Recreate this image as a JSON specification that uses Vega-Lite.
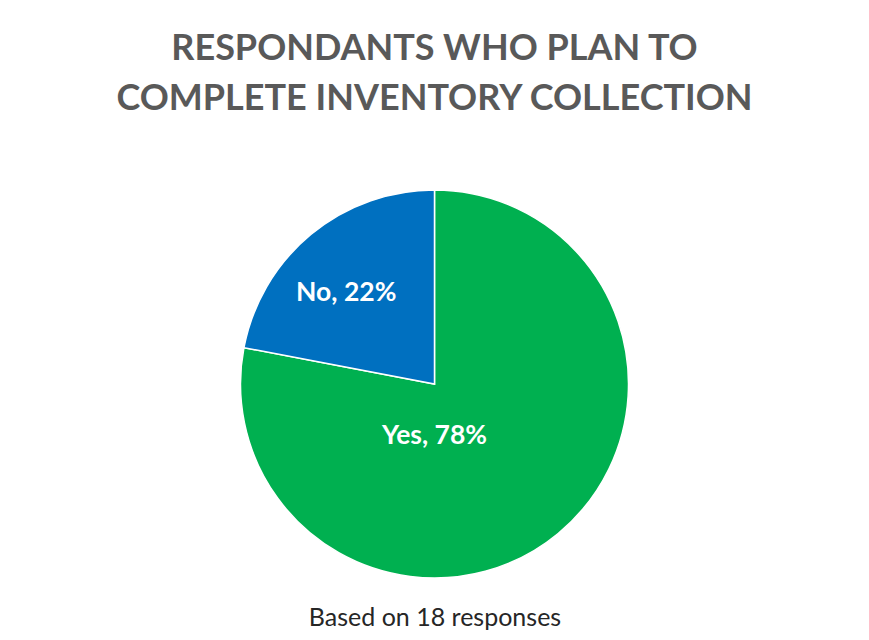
{
 "$schema": "https://vega.github.io/schema/vega-lite/v6.json",
 "width": 869, "height": 388,
 "autosize": {"type": "none"},
 "padding": {"left": 0, "top": 190, "right": 0, "bottom": 62},
 "background": "white",
 "title": {"text": ["RESPONDANTS WHO PLAN TO", "COMPLETE INVENTORY COLLECTION"], "font": "Lato", "fontSize": 36, "fontWeight": "bold", "color": "#595959", "lineHeight": 50, "offset": 69, "anchor": "middle"},
 "data": {"values": [
  {"category": "Yes", "value": 78, "label": "Yes, 78%"},
  {"category": "No", "value": 22, "label": "No, 22%"}
 ]},
 "layer": [
  {"mark": {"type": "arc", "outerRadius": 194, "stroke": "white", "strokeWidth": 1.5},
   "encoding": {
    "theta": {"field": "value", "type": "quantitative", "stack": true},
    "color": {"field": "category", "type": "nominal", "scale": {"domain": ["Yes", "No"], "range": ["#00B050", "#0070C0"]}, "legend": null},
    "order": {"field": "category", "type": "nominal", "sort": "descending"}
   }},
  {"mark": {"type": "text", "font": "Lato", "fontSize": 26.5, "fontWeight": "bold", "fill": "white", "align": "center", "baseline": "middle"},
   "encoding": {
    "theta": {"field": "value", "type": "quantitative", "stack": true, "scale": {"range": [1.2903, 6.037]}},
    "radius": {"field": "value", "type": "quantitative", "scale": {"type": "linear", "domain": [22, 78], "range": [127, 52], "zero": false}},
    "detail": {"field": "category", "type": "nominal"},
    "order": {"field": "category", "type": "nominal", "sort": "descending"},
    "text": {"field": "label", "type": "nominal"}
   }},
  {"mark": {"type": "rule", "opacity": 0},
   "encoding": {
    "x": {"field": "category", "type": "nominal", "axis": {"title": "Based on 18 responses", "labels": false, "ticks": false, "domain": false, "grid": false, "titleFont": "Lato", "titleFontSize": 25, "titleFontWeight": "normal", "titleColor": "#262626", "titlePadding": 27}}
   }}
 ],
 "resolve": {"scale": {"theta": "independent", "radius": "independent"}},
 "config": {"view": {"stroke": null}}
}
